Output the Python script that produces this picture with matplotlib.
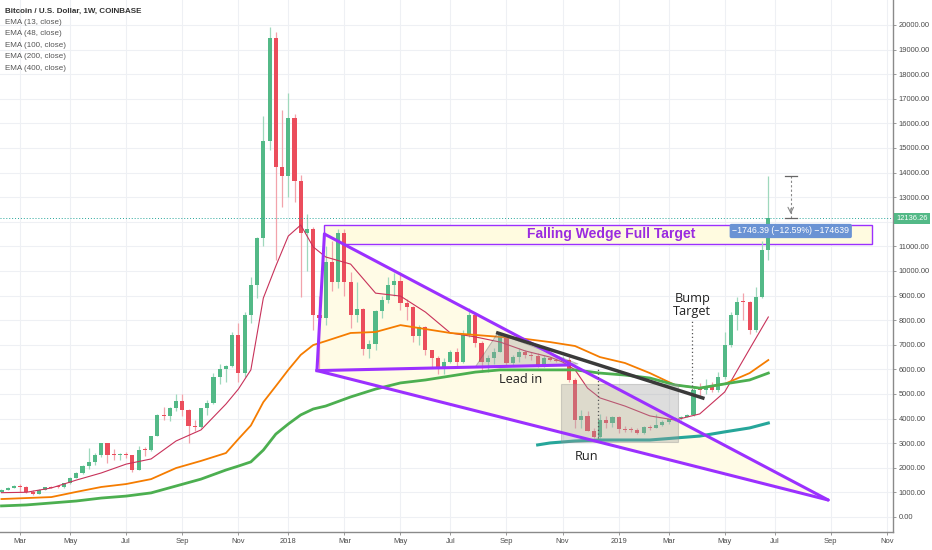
import matplotlib
matplotlib.use("Agg")
import matplotlib.pyplot as plt
import pandas as pd
from matplotlib.patches import Rectangle, Polygon
from matplotlib.transforms import blended_transform_factory

# weekly candles, Coinbase BTC/USD, week starting 2017-02-13
first_week = "2017-02-13"
opens = [1030, 1100, 1180, 1260, 1220, 1030, 950, 1100, 1200, 1210,
         1200, 1370, 1600, 1790, 2070, 2250, 2520, 2990, 2520, 2500,
         2510, 2500, 1910, 2740, 2720, 3290, 4140, 4110, 4420, 4720,
         4340, 3710, 3670, 4420, 4650, 5680, 6000, 6140, 7400, 5870,
         8200, 9430, 11340, 15300, 19470, 14240, 13870, 16230, 13660, 11550,
         11700, 8200, 8100, 10380, 9570, 11550, 9570, 8200, 8450, 6830,
         7030, 8390, 8820, 9430, 9590, 8710, 8540, 7360, 7740, 6790,
         6460, 6110, 6310, 6720, 6310, 7400, 8210, 7060, 6310, 6450,
         6720, 7400, 6250, 6520, 6720, 6590, 6550, 6180, 6450, 6380,
         6350, 6380, 5570, 3940, 4110, 3510, 3240, 3940, 3810, 4050,
         3580, 3540, 3530, 3430, 3670, 3620, 3750, 3870, 3970, 4010,
         4080, 4150, 5170, 5150, 5300, 5150, 5700, 6990, 8200, 8750,
         8720, 7590, 8960, 10850]
highs = [1120, 1200, 1290, 1330, 1260, 1080, 1130, 1210, 1240, 1260,
         1400, 1640, 1820, 2100, 2790, 2600, 3000, 3000, 2780, 2600,
         2650, 2540, 2900, 2830, 3300, 4200, 4480, 4460, 4980, 4980,
         4400, 3960, 4450, 4760, 5860, 6200, 6180, 7500, 7870, 8350,
         9750, 11400, 16300, 19930, 19700, 16550, 17240, 16400, 13900, 12300,
         11800, 9000, 11000, 11200, 11700, 11700, 9950, 9570, 8500, 7200,
         8400, 9000, 9750, 9900, 9950, 8880, 8560, 7800, 7770, 6800,
         6550, 6450, 6800, 6850, 7600, 8500, 8300, 7150, 6600, 6850,
         7420, 7420, 6600, 6850, 6800, 6700, 6680, 6600, 6500, 6450,
         6550, 6500, 5650, 4350, 4300, 3600, 4200, 4100, 4100, 4100,
         3700, 3650, 3600, 3700, 3720, 4200, 3950, 4000, 4050, 4120,
         4200, 5300, 5450, 5600, 5500, 5900, 7500, 8350, 8950, 9100,
         8800, 9350, 11200, 13880]
lows = [1000, 1080, 1160, 1000, 990, 900, 940, 1090, 1170, 1170,
        1190, 1350, 1580, 1760, 1950, 2100, 2450, 2200, 2300, 2300,
        2400, 1830, 1890, 2480, 2680, 3280, 3960, 3900, 4300, 4100,
        3000, 3500, 3600, 4150, 4590, 5400, 5500, 6100, 5500, 5700,
        7900, 8900, 11000, 14900, 10450, 12600, 13000, 12800, 8950, 10000,
        7600, 6000, 7800, 9200, 9300, 9000, 7700, 7940, 6600, 6450,
        6800, 8100, 8700, 9000, 8400, 8000, 7100, 7000, 6600, 6100,
        5800, 5800, 6250, 6100, 6250, 7300, 6900, 5900, 5900, 6200,
        6700, 6100, 6150, 6300, 6450, 6400, 6100, 6100, 6350, 6300,
        6250, 5500, 3600, 3600, 3480, 3200, 3200, 3600, 3650, 3400,
        3450, 3450, 3380, 3370, 3550, 3600, 3700, 3800, 3900, 3950,
        4050, 4100, 4900, 5000, 5100, 5100, 5600, 6900, 7600, 8000,
        7450, 7500, 8900, 10450]
closes = [1100, 1180, 1260, 1220, 1030, 950, 1100, 1200, 1190, 1200,
          1370, 1600, 1790, 2070, 2250, 2520, 2990, 2520, 2500, 2510,
          2500, 1910, 2720, 2720, 3290, 4130, 4110, 4420, 4720, 4340,
          3710, 3670, 4420, 4650, 5680, 6000, 6140, 7400, 5870, 8200,
          9430, 11340, 15300, 19470, 14240, 13870, 16230, 13660, 11550, 11700,
          8200, 8100, 10380, 9570, 11550, 9570, 8200, 8450, 6830, 7030,
          8390, 8820, 9430, 9590, 8710, 8540, 7360, 7740, 6790, 6460,
          6110, 6310, 6720, 6310, 7400, 8210, 7060, 6310, 6450, 6720,
          7400, 6250, 6520, 6720, 6590, 6550, 6180, 6450, 6380, 6350,
          6380, 5570, 3940, 4110, 3510, 3240, 3940, 3810, 4050, 3580,
          3540, 3530, 3430, 3670, 3620, 3750, 3870, 3970, 4010, 4080,
          4150, 5160, 5150, 5300, 5150, 5700, 6990, 8200, 8750, 8720,
          7590, 8960, 10850, 12136.26]
last_price = 12136.26

# EMA lines (week index, price)
ema13_idx = [0, 4, 8, 12, 16, 20, 24, 28, 32, 36, 38, 40, 42, 44, 46, 48, 50, 52,
             56, 60, 64, 68, 72, 76, 80, 84, 88, 90, 92, 94, 96, 100, 104, 108,
             112, 116, 120, 123]
ema13 = [988, 1005, 1180, 1500, 1790, 2150, 2360, 3090, 3540, 4590, 5200, 5980,
         8900, 10200, 11420, 11870, 10980, 10570, 10280, 9100, 8980, 8330, 7480,
         7320, 7110, 6750, 6500, 6300, 5980, 5240, 4840, 4510, 4110, 3940, 4190,
         5080, 6830, 8130]
ema_idx = [0, 4, 8, 12, 16, 20, 24, 28, 32, 36, 38, 40, 42, 44, 46, 48, 50, 52,
           56, 60, 64, 68, 72, 76, 80, 84, 88, 92, 96, 100, 104, 108, 112, 116,
           120, 123]
ema48 = [730, 770, 810, 1020, 1220, 1340, 1540, 1990, 2280, 2600, 3170, 3720,
         4670, 5320, 5980, 6590, 6990, 7150, 7480, 7520, 7800, 7640, 7480, 7400,
         7320, 7240, 7110, 6950, 6500, 6260, 5850, 5370, 5240, 5410, 5850, 6380]
ema100 = [450, 490, 570, 650, 770, 850, 980, 1260, 1540, 1910, 2070, 2240,
          2720, 3370, 3780, 4150, 4390, 4510, 4880, 5200, 5450, 5570, 5730, 5890,
          5980, 5980, 5980, 5980, 5850, 5770, 5650, 5370, 5240, 5410, 5570, 5850]
ema200_idx = [86, 88, 92, 96, 100, 104, 108, 112, 116, 120, 123]
ema200 = [2930, 3010, 3090, 3130, 3130, 3130, 3210, 3290, 3460, 3620, 3820]

legend_lines = ["Bitcoin / U.S. Dollar, 1W, COINBASE", "EMA (13, close)",
                "EMA (48, close)", "EMA (100, close)", "EMA (200, close)",
                "EMA (400, close)"]

# drawings (week index, price)
wedge_x = [51.8, 50.6, 132.6]
wedge_y = [11504, 5950, 691]
lead_line_x = [50.6, 90.9]
lead_line_y = [5950, 6179]
target_x = [51.8, 139.7]
target_y = [11100, 11870]
target_text = "Falling Wedge Full Target"
target_text_x = 97.8
bump_line_x = [79.6, 112.5]
bump_line_y = [7480, 4837]
tri_x = [76.0, 79.6, 92.5]
tri_y = [6098, 7480, 6220]
run_box_x = [89.7, 108.5]
run_box_y = [3061, 5406]
run_dot_x = 95.7
run_dot_y = [3211, 6098]
bump_dot_x = 110.7
bump_dot_y = [5163, 7980]
labels_txt = [("Lead in", 83.2, 5569), ("Run", 93.9, 2439), ("Bump\nTarget", 110.8, 8618)]
meas_x = 126.6
meas_y = [12140, 13880]
meas_text = "\u22121746.39 (\u221212.59%) \u2212174639"
meas_box_y = 11626

up_c, dn_c = "#53b987", "#eb4d5c"
up_w, dn_w = "#9fd8bd", "#f2a3ab"
purple = "#9b30ff"

plt.rcParams["font.family"] = ["Liberation Sans", "DejaVu Sans"]
fig = plt.figure(figsize=(9.32, 5.5), dpi=100)
ax = fig.add_axes([0, 18 / 550, 893 / 932, 532 / 550])

n = len(closes)
x = list(range(n))
for i in x:
    o, h, l, c = opens[i], highs[i], lows[i], closes[i]
    up = c >= o
    ax.vlines(i, l, h, color=up_w if up else dn_w, lw=0.9, zorder=2)
    ax.bar(i, max(abs(c - o), 45), bottom=min(o, c), width=0.66,
           color=up_c if up else dn_c, zorder=2.5, linewidth=0)

ax.plot(ema13_idx, ema13, color="#c8325a", lw=0.8, zorder=3)
ax.plot(ema_idx, ema48, color="#f57c00", lw=1.3, zorder=3)
ax.plot(ema_idx, ema100, color="#4caf50", lw=2, zorder=3)
ax.plot(ema200_idx, ema200, color="#26a69a", lw=2.2, zorder=3)

# target box
ax.add_patch(Rectangle((target_x[0], target_y[0]), target_x[1] - target_x[0],
                       target_y[1] - target_y[0], facecolor="#fffbe0",
                       edgecolor=purple, lw=1, zorder=1))
ax.text(target_text_x, sum(target_y) / 2, target_text, color="#9a2be0", fontsize=10,
        fontweight="bold", ha="center", va="center", zorder=5)

# wedge
ax.add_patch(Polygon(list(zip(wedge_x, wedge_y)), closed=True,
                     facecolor="#fffbe6", edgecolor="none", zorder=1))
for a, b in [(0, 1), (1, 2), (0, 2)]:
    ax.plot([wedge_x[a], wedge_x[b]], [wedge_y[a], wedge_y[b]], color=purple,
            lw=2.2, zorder=4, solid_capstyle="round")
ax.plot(lead_line_x, lead_line_y, color=purple, lw=2.2, zorder=4)

# lead in triangle + bump line
ax.add_patch(Polygon(list(zip(tri_x, tri_y)), closed=True, facecolor="#9e9e9e",
                     alpha=0.35, edgecolor="#555555", lw=0.7, zorder=3.5))
ax.plot(bump_line_x, bump_line_y, color="#3a3a3a", lw=2.5, zorder=4)

# run box
ax.add_patch(Rectangle((run_box_x[0], run_box_y[0]), run_box_x[1] - run_box_x[0],
                       run_box_y[1] - run_box_y[0], facecolor="#9e9e9e",
                       alpha=0.35, edgecolor="#8a8a8a", lw=0.8, zorder=3.5))
ax.plot([run_dot_x, run_dot_x], run_dot_y, color="#555555", lw=0.9,
        linestyle=(0, (1, 2)), zorder=4)
ax.plot([bump_dot_x, bump_dot_x], bump_dot_y, color="#555555", lw=0.9,
        linestyle=(0, (1, 2)), zorder=4)
for t, tx, ty in labels_txt:
    ax.text(tx, ty, t, fontsize=9.2, color="#222222", ha="center", va="center",
            family=["Open Sans", "DejaVu Sans"], linespacing=1.0, zorder=5)

# last price line
ax.axhline(last_price, color="#26a69a", lw=0.7, linestyle=(0, (1, 2)), zorder=3)

# measurement
ax.plot([meas_x, meas_x], meas_y, color="#888888", lw=0.8, linestyle=(0, (2, 2)), zorder=4)
ax.annotate("", xy=(meas_x, meas_y[0] + 60), xytext=(meas_x, meas_y[0] + 500),
            arrowprops=dict(arrowstyle="->", color="#888888", lw=0.8), zorder=4)
for yy in meas_y:
    ax.plot([meas_x - 0.95, meas_x + 0.95], [yy, yy], color="#666666", lw=0.9, zorder=4)
ax.text(meas_x, meas_box_y, meas_text, fontsize=6.3, color="white", ha="center",
        va="center", zorder=6,
        bbox=dict(boxstyle="round,pad=0.3,rounding_size=0.2", fc="#6a93d4", ec="none"))

# axes styling
ax.set_xlim(-0.24, 143.0)
ax.set_ylim(-610, 21016)
dates = pd.date_range(first_week, periods=144, freq="7D")
tick_pos, tick_lab = [], []
for i in range(1, len(dates)):
    d, p = dates[i], dates[i - 1]
    if d.month != p.month:
        if d.month == 1:
            tick_pos.append(i)
            tick_lab.append(str(d.year))
        elif d.month in (3, 5, 7, 9, 11):
            tick_pos.append(i)
            tick_lab.append(d.strftime("%b"))
ax.set_xticks(tick_pos)
ax.set_xticklabels(tick_lab)
yt = list(range(0, 20001, 1000))
ax.set_yticks(yt)
# the 12000 label sits under the last-price tag
ax.set_yticklabels(["" if v == 12000 else f"{v:.2f}" for v in yt])
ax.yaxis.tick_right()
ax.grid(True, color="#eef0f4", lw=0.8, zorder=0)
ax.set_axisbelow(True)
for s in ["top", "left"]:
    ax.spines[s].set_visible(False)
for s in ["right", "bottom"]:
    ax.spines[s].set_color("#8a8a8a")
    ax.spines[s].set_linewidth(1)
ax.tick_params(axis="both", labelsize=5.4, colors="#8a8a8a", labelcolor="#4a4a4a",
               length=2.5, width=0.6, pad=1.5)

ax.annotate(f"{last_price:.2f}", xy=(1.0, last_price),
            xycoords=blended_transform_factory(ax.transAxes, ax.transData),
            xytext=(2.5, 0), textcoords="offset points", fontsize=5.4, color="white",
            va="center", ha="left", annotation_clip=False, zorder=7,
            bbox=dict(boxstyle="square,pad=0.3", fc=up_c, ec="none"))

for k, t in enumerate(legend_lines):
    fig.text(5 / 932, 1 - (11 + 11.4 * k) / 550, t, fontsize=5.8,
             color="#333333" if k == 0 else "#555555",
             fontweight="bold" if k == 0 else "normal", va="center", ha="left")

fig.savefig("out.png", dpi=100)
